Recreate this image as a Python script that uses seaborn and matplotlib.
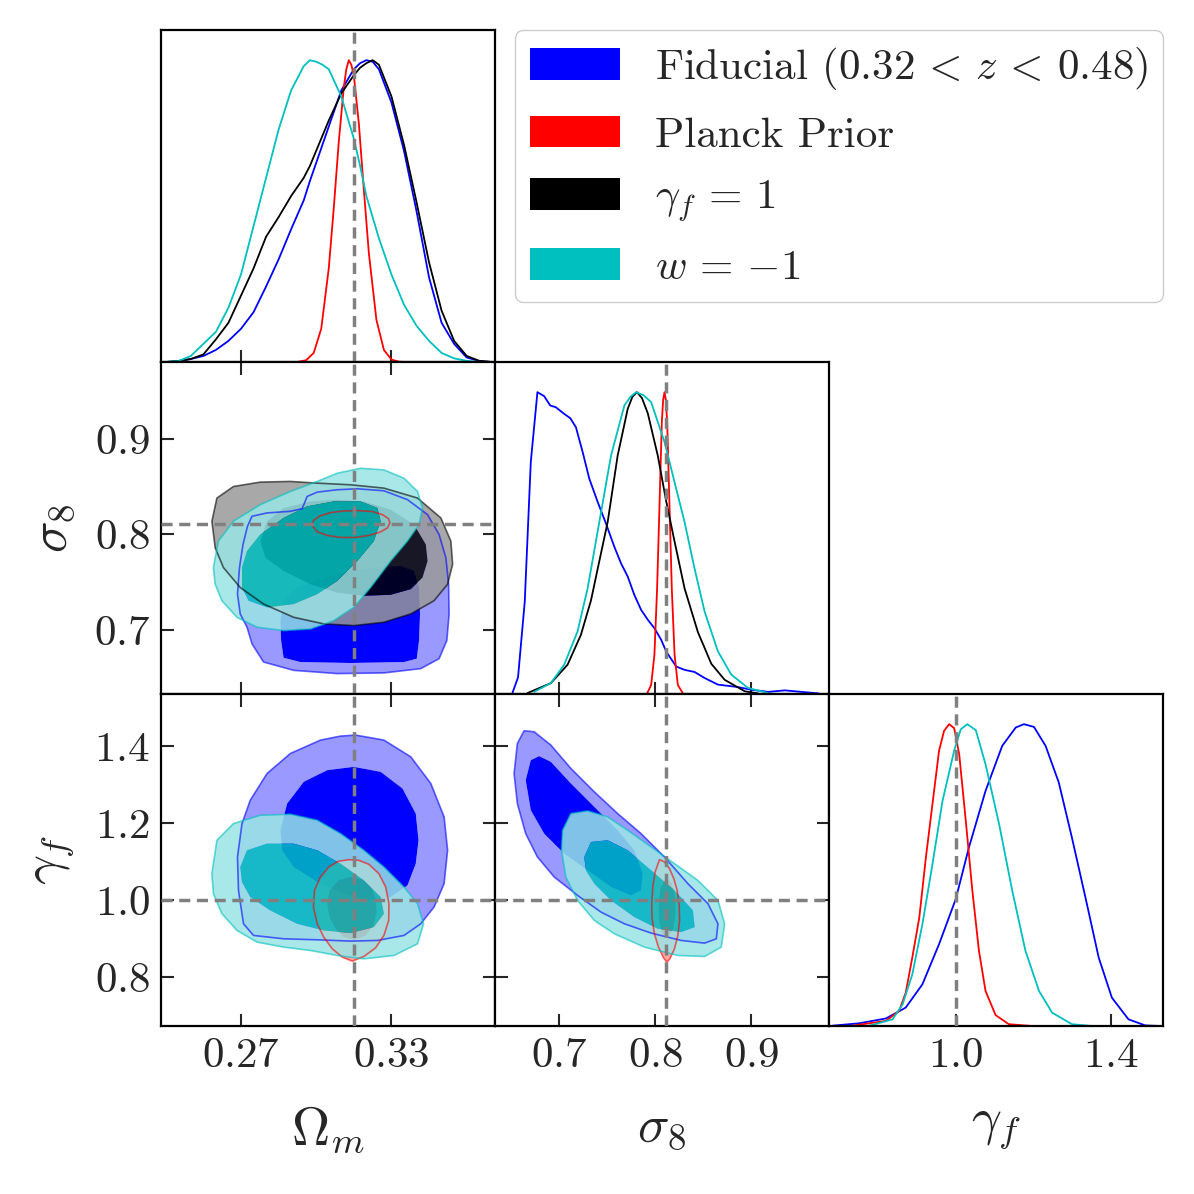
import matplotlib
matplotlib.use("Agg")
import matplotlib.pyplot as plt
from matplotlib.patches import Patch, PathPatch
from matplotlib.path import Path
import seaborn as sns

# -----------------------------
# axis ranges, ticks, fiducial values
# -----------------------------
om_lim = [0.2381, 0.3713]
s8_lim = [0.6328, 0.9808]
gf_lim = [0.673, 1.535]
om_ticks = [0.27, 0.33]
om_ticklabels = ["0.27", "0.33"]
s8_ticks = [0.7, 0.8, 0.9]
s8_ticklabels = ["0.7", "0.8", "0.9"]
gf_ticks_y = [0.8, 1.0, 1.2, 1.4]
gf_ticklabels_y = ["0.8", "1.0", "1.2", "1.4"]
gf_ticks_x = [1.0, 1.4]
gf_ticklabels_x = ["1.0", "1.4"]
om_ref = 0.315
s8_ref = 0.811
gf_ref = 1.0

labels = [r"Fiducial $(0.32\,<\,z\,<\,0.48)$", "Planck Prior",
          r"$\gamma_f\,=\,1$", r"$w\,=\,{-1}$"]
colors = ["#0000ff", "#ff0000", "#000000", "#00bfbf"]

# -----------------------------
# 1D marginals: Omega_m
# -----------------------------
om_grid = [0.240, 0.245, 0.250, 0.255, 0.260, 0.265, 0.270, 0.275, 0.280, 0.285,
           0.290, 0.295, 0.2975, 0.300, 0.3025, 0.305, 0.310, 0.315, 0.3175, 0.320,
           0.3225, 0.325, 0.330, 0.335, 0.340, 0.345, 0.350, 0.355, 0.360, 0.365, 0.370]
om_fid_p = [0.0, 0.003, 0.01, 0.02, 0.04, 0.07, 0.11, 0.165, 0.25, 0.34,
            0.44, 0.535, 0.60, 0.66, 0.72, 0.78, 0.90, 0.97, 0.99, 1.0,
            0.995, 0.97, 0.86, 0.70, 0.50, 0.28, 0.13, 0.06, 0.015, 0.003, 0.0]
om_gam_p = [0.0, 0.003, 0.01, 0.025, 0.075, 0.13, 0.22, 0.31, 0.415, 0.48,
            0.55, 0.61, 0.65, 0.70, 0.75, 0.80, 0.89, 0.95, 0.975, 0.99,
            1.0, 0.985, 0.88, 0.72, 0.53, 0.33, 0.17, 0.07, 0.02, 0.004, 0.0]
om_w_p = [0.0, 0.003, 0.02, 0.06, 0.10, 0.18, 0.29, 0.45, 0.61, 0.77,
          0.90, 0.98, 1.0, 0.995, 0.985, 0.97, 0.88, 0.74, 0.65, 0.55,
          0.48, 0.41, 0.29, 0.19, 0.12, 0.07, 0.03, 0.012, 0.004, 0.0, 0.0]
om_pl_x = [0.293, 0.296, 0.299, 0.302, 0.305, 0.307, 0.309, 0.311, 0.312, 0.313,
           0.314, 0.315, 0.317, 0.319, 0.321, 0.324, 0.327, 0.330, 0.333, 0.336]
om_pl_p = [0.001, 0.006, 0.03, 0.11, 0.31, 0.51, 0.73, 0.91, 0.97, 1.0,
           0.985, 0.95, 0.79, 0.57, 0.36, 0.14, 0.04, 0.008, 0.001, 0.0]

# -----------------------------
# 1D marginals: sigma_8
# -----------------------------
s8_fid_x = [0.6509, 0.6568, 0.6638, 0.6701, 0.6770, 0.6840, 0.6903, 0.6962, 0.7049, 0.7112,
            0.7171, 0.7241, 0.7310, 0.7397, 0.7484, 0.7571, 0.7641, 0.7711, 0.7780, 0.7850,
            0.7920, 0.7989, 0.8059, 0.8111, 0.8216, 0.8303, 0.8407, 0.8512, 0.8651, 0.8860,
            0.9000, 0.9174, 0.9348, 0.9522, 0.9696]
s8_fid_p = [0.003, 0.055, 0.306, 0.769, 1.0, 0.987, 0.956, 0.950, 0.928, 0.914,
            0.884, 0.802, 0.714, 0.637, 0.565, 0.488, 0.433, 0.389, 0.328, 0.279,
            0.246, 0.218, 0.180, 0.141, 0.091, 0.080, 0.073, 0.053, 0.031, 0.023,
            0.014, 0.007, 0.012, 0.007, 0.002]
s8_gam_x = [0.6666, 0.6910, 0.7084, 0.7223, 0.7328, 0.7398, 0.7502, 0.7606, 0.7711, 0.7760,
            0.7808, 0.7860, 0.7920, 0.8024, 0.8111, 0.8199, 0.8303, 0.8442, 0.8582, 0.8721,
            0.8930, 0.9069]
s8_gam_p = [0.003, 0.036, 0.097, 0.196, 0.31, 0.415, 0.57, 0.79, 0.945, 0.985,
            1.0, 0.98, 0.93, 0.79, 0.64, 0.505, 0.35, 0.205, 0.10, 0.047,
            0.009, 0.002]
s8_w_x = [0.6736, 0.6910, 0.7049, 0.7188, 0.7293, 0.7415, 0.7537, 0.7676, 0.7740, 0.7798,
          0.7875, 0.7955, 0.8094, 0.8216, 0.8303, 0.8407, 0.8512, 0.8651, 0.8790, 0.8965,
          0.9174]
s8_w_p = [0.007, 0.036, 0.097, 0.207, 0.35, 0.57, 0.79, 0.956, 0.985, 1.0,
          0.99, 0.967, 0.835, 0.68, 0.57, 0.416, 0.273, 0.141, 0.064, 0.02,
          0.003]
s8_pl_x = [0.7913, 0.7955, 0.7989, 0.8017, 0.8042, 0.8066, 0.8080, 0.8094, 0.8108, 0.8122,
           0.8146, 0.8170, 0.8199, 0.8233, 0.8286]
s8_pl_p = [0.002, 0.03, 0.13, 0.35, 0.625, 0.90, 0.975, 1.0, 0.975, 0.90,
           0.625, 0.35, 0.13, 0.03, 0.002]

# -----------------------------
# 1D marginals: gamma_f
# -----------------------------
gf_fid_x = [0.682, 0.751, 0.820, 0.871, 0.914, 0.957, 1.000, 1.034, 1.077, 1.120,
            1.155, 1.176, 1.202, 1.232, 1.266, 1.300, 1.335, 1.369, 1.403, 1.446,
            1.489, 1.528]
gf_fid_p = [0.001, 0.009, 0.025, 0.061, 0.138, 0.271, 0.420, 0.591, 0.779, 0.928,
            0.989, 1.0, 0.991, 0.928, 0.807, 0.624, 0.425, 0.227, 0.094, 0.022,
            0.002, 0.0]
gf_w_x = [0.777, 0.837, 0.863, 0.888, 0.914, 0.940, 0.966, 0.996, 1.013, 1.030,
          1.052, 1.077, 1.112, 1.146, 1.180, 1.215, 1.249, 1.300, 1.352]
gf_w_p = [0.001, 0.022, 0.072, 0.171, 0.337, 0.536, 0.746, 0.912, 0.983, 1.0,
          0.980, 0.867, 0.669, 0.448, 0.249, 0.116, 0.044, 0.006, 0.0]
gf_pl_x = [0.734, 0.820, 0.854, 0.871, 0.888, 0.906, 0.923, 0.940, 0.957, 0.970,
           0.983, 0.996, 1.009, 1.026, 1.043, 1.060, 1.077, 1.103, 1.137, 1.197]
gf_pl_p = [0.001, 0.017, 0.050, 0.110, 0.227, 0.359, 0.558, 0.735, 0.912, 0.978,
           1.0, 0.987, 0.901, 0.680, 0.448, 0.249, 0.116, 0.036, 0.006, 0.0]

# -----------------------------
# 2D contours (68% / 95%), Omega_m vs sigma_8
# -----------------------------
fid_om_s8_95_x = [0.2744, 0.2804, 0.2897, 0.2944, 0.2964, 0.3004, 0.3084, 0.3164, 0.3270, 0.3364,
                  0.3444, 0.3490, 0.3517, 0.3528, 0.3530, 0.3521, 0.3490, 0.3417, 0.3270, 0.3084,
                  0.2910, 0.2790, 0.2744, 0.2724, 0.2697, 0.2686, 0.2694, 0.2708, 0.2726]
fid_om_s8_95_y = [0.8191, 0.8226, 0.8243, 0.8271, 0.8399, 0.8444, 0.8469, 0.8479, 0.8458, 0.8365,
                  0.8208, 0.8000, 0.7757, 0.7479, 0.7167, 0.6889, 0.6698, 0.6594, 0.6549, 0.6542,
                  0.6576, 0.6663, 0.6854, 0.7028, 0.7167, 0.7375, 0.7653, 0.7896, 0.8087]
fid_om_s8_68_x = [0.2857, 0.2870, 0.2924, 0.3030, 0.3137, 0.3244, 0.3337, 0.3390, 0.3410, 0.3414,
                  0.3410, 0.3401, 0.3350, 0.3137, 0.2937, 0.2870, 0.2860]
fid_om_s8_68_y = [0.7097, 0.7306, 0.7444, 0.7549, 0.7618, 0.7660, 0.7670, 0.7618, 0.7444, 0.7167,
                  0.6889, 0.6698, 0.6663, 0.6653, 0.6663, 0.6708, 0.6889]
pl_om_s8_95_x = [0.2984, 0.2990, 0.3014, 0.3057, 0.3110, 0.3170, 0.3224, 0.3264, 0.3288, 0.3294,
                 0.3284, 0.3254, 0.3210, 0.3157, 0.3097, 0.3044, 0.3004]
pl_om_s8_95_y = [0.8097, 0.8149, 0.8194, 0.8229, 0.8247, 0.8250, 0.8240, 0.8208, 0.8167, 0.8122,
                 0.8069, 0.8024, 0.7990, 0.7969, 0.7969, 0.7990, 0.8028]
pl_om_s8_68_x = [0.3064, 0.3084, 0.3137, 0.3197, 0.3220, 0.3204, 0.3144, 0.3084]
pl_om_s8_68_y = [0.8104, 0.8153, 0.8181, 0.8167, 0.8122, 0.8069, 0.8042, 0.8056]
gam_om_s8_95_x = [0.2584, 0.2604, 0.2670, 0.2777, 0.2897, 0.3004, 0.3137, 0.3270, 0.3404, 0.3497,
                  0.3537, 0.3544, 0.3524, 0.3470, 0.3377, 0.3270, 0.3150, 0.3030, 0.2910, 0.2790,
                  0.2697, 0.2630, 0.2597]
gam_om_s8_95_y = [0.8139, 0.8382, 0.8503, 0.8549, 0.8556, 0.8538, 0.8521, 0.8486, 0.8382, 0.8174,
                  0.7931, 0.7688, 0.7479, 0.7306, 0.7167, 0.7080, 0.7045, 0.7063, 0.7132, 0.7271,
                  0.7444, 0.7653, 0.7861]
gam_om_s8_68_x = [0.2777, 0.2804, 0.2870, 0.2977, 0.3084, 0.3190, 0.3297, 0.3390, 0.3437, 0.3444,
                  0.3424, 0.3377, 0.3297, 0.3190, 0.3084, 0.2977, 0.2870, 0.2797]
gam_om_s8_68_y = [0.7931, 0.8139, 0.8278, 0.8347, 0.8365, 0.8347, 0.8260, 0.8104, 0.7896, 0.7722,
                  0.7549, 0.7427, 0.7368, 0.7358, 0.7392, 0.7479, 0.7618, 0.7757]
w_om_s8_95_x = [0.2590, 0.2610, 0.2670, 0.2777, 0.2897, 0.3004, 0.3084, 0.3177, 0.3270, 0.3350,
                0.3404, 0.3424, 0.3410, 0.3364, 0.3297, 0.3217, 0.3150, 0.3070, 0.2977, 0.2870,
                0.2764, 0.2684, 0.2624, 0.2597]
w_om_s8_95_y = [0.7653, 0.7931, 0.8139, 0.8313, 0.8451, 0.8556, 0.8642, 0.8694, 0.8677, 0.8590,
                0.8451, 0.8278, 0.8104, 0.7931, 0.7722, 0.7444, 0.7236, 0.7097, 0.7010, 0.6993,
                0.7028, 0.7132, 0.7306, 0.7479]
w_om_s8_68_x = [0.2704, 0.2724, 0.2777, 0.2870, 0.2964, 0.3070, 0.3177, 0.3244, 0.3257, 0.3230,
                0.3164, 0.3084, 0.3004, 0.2910, 0.2804, 0.2730, 0.2704]
w_om_s8_68_y = [0.7653, 0.7826, 0.8000, 0.8174, 0.8295, 0.8347, 0.8347, 0.8278, 0.8139, 0.7931,
                0.7722, 0.7514, 0.7375, 0.7271, 0.7236, 0.7306, 0.7444]

# -----------------------------
# 2D contours, Omega_m vs gamma_f
# -----------------------------
fid_om_gf_95_x = [0.3157, 0.3270, 0.3377, 0.3457, 0.3510, 0.3524, 0.3510, 0.3470, 0.3417, 0.3350,
                  0.3244, 0.3137, 0.3004, 0.2870, 0.2750, 0.2710, 0.2690, 0.2686, 0.2704, 0.2737,
                  0.2804, 0.2897, 0.3017, 0.3097]
fid_om_gf_95_y = [1.4283, 1.4153, 1.3719, 1.3026, 1.2159, 1.1292, 1.0425, 0.9818, 0.9384, 0.9081,
                  0.8951, 0.8934, 0.8968, 0.8994, 0.9081, 0.9384, 1.0251, 1.1118, 1.1985, 1.2592,
                  1.3286, 1.3806, 1.4153, 1.4257]
fid_om_gf_68_x = [0.2857, 0.2884, 0.2950, 0.3044, 0.3150, 0.3257, 0.3344, 0.3397, 0.3408, 0.3397,
                  0.3364, 0.3297, 0.3204, 0.3110, 0.3004, 0.2910, 0.2864]
fid_om_gf_68_y = [1.1812, 1.2505, 1.3069, 1.3372, 1.3459, 1.3329, 1.2896, 1.2245, 1.1552, 1.0945,
                  1.0381, 1.0078, 0.9991, 1.0165, 1.0468, 1.0858, 1.1292]
pl_om_gf_95_x = [0.3130, 0.3170, 0.3210, 0.3250, 0.3277, 0.3290, 0.3289, 0.3270, 0.3237, 0.3190,
                 0.3144, 0.3104, 0.3064, 0.3030, 0.3004, 0.2989, 0.2993, 0.3017, 0.3050, 0.3088]
pl_om_gf_95_y = [1.1049, 1.1032, 1.0928, 1.0685, 1.0338, 0.9905, 0.9471, 0.9081, 0.8760, 0.8535,
                 0.8414, 0.8518, 0.8734, 0.9038, 0.9384, 0.9818, 1.0251, 1.0598, 1.0858, 1.1006]
pl_om_gf_68_x = [0.3137, 0.3184, 0.3217, 0.3237, 0.3241, 0.3228, 0.3197, 0.3150, 0.3110, 0.3077,
                 0.3053, 0.3044, 0.3054, 0.3090]
pl_om_gf_68_y = [1.0598, 1.0529, 1.0338, 1.0035, 0.9688, 0.9341, 0.9081, 0.8968, 0.9038, 0.9254,
                 0.9558, 0.9905, 1.0251, 1.0511]
w_om_gf_95_x = [0.2584, 0.2604, 0.2670, 0.2777, 0.2897, 0.3004, 0.3097, 0.3190, 0.3270, 0.3350,
                0.3404, 0.3428, 0.3404, 0.3310, 0.3190, 0.3084, 0.2977, 0.2870, 0.2764, 0.2684,
                0.2624, 0.2590]
w_om_gf_95_y = [1.0685, 1.1552, 1.1985, 1.2202, 1.2228, 1.2072, 1.1725, 1.1292, 1.0858, 1.0338,
                0.9905, 0.9384, 0.8864, 0.8561, 0.8474, 0.8561, 0.8691, 0.8778, 0.8908, 0.9211,
                0.9645, 1.0165]
w_om_gf_68_x = [0.2697, 0.2724, 0.2804, 0.2910, 0.3004, 0.3097, 0.3190, 0.3257, 0.3270, 0.3230,
                0.3137, 0.3030, 0.2924, 0.2817, 0.2737, 0.2704]
w_om_gf_68_y = [1.0858, 1.1292, 1.1465, 1.1465, 1.1292, 1.0945, 1.0511, 1.0078, 0.9645, 0.9298,
                0.9142, 0.9211, 0.9384, 0.9731, 1.0078, 1.0468]

# -----------------------------
# 2D contours, sigma_8 vs gamma_f
# -----------------------------
fid_s8_gf_95_x = [0.6561, 0.6631, 0.6736, 0.6910, 0.7119, 0.7363, 0.7606, 0.7850, 0.8094, 0.8338,
                  0.8547, 0.8651, 0.8634, 0.8512, 0.8268, 0.7955, 0.7676, 0.7432, 0.7188, 0.6945,
                  0.6770, 0.6648, 0.6561, 0.6527]
fid_s8_gf_95_y = [1.4066, 1.4395, 1.4369, 1.4023, 1.3416, 1.2809, 1.2245, 1.1725, 1.1118, 1.0425,
                  0.9905, 0.9384, 0.8994, 0.8882, 0.8951, 0.9142, 0.9384, 0.9688, 1.0121, 1.0598,
                  1.1118, 1.1725, 1.2505, 1.3286]
fid_s8_gf_68_x = [0.6648, 0.6701, 0.6788, 0.6910, 0.7119, 0.7363, 0.7606, 0.7780, 0.7868, 0.7850,
                  0.7746, 0.7537, 0.7293, 0.7049, 0.6840, 0.6701]
fid_s8_gf_68_y = [1.3112, 1.3632, 1.3736, 1.3589, 1.3026, 1.2419, 1.1812, 1.1292, 1.0685, 1.0251,
                  1.0121, 1.0338, 1.0772, 1.1205, 1.1725, 1.2332]
pl_s8_gf_95_x = [0.8042, 0.8094, 0.8146, 0.8191, 0.8226, 0.8247, 0.8251, 0.8233, 0.8198, 0.8150,
                 0.8118, 0.8080, 0.8031, 0.7989, 0.7965, 0.7961, 0.7972, 0.7996]
pl_s8_gf_95_y = [1.1049, 1.0988, 1.0815, 1.0555, 1.0251, 0.9861, 0.9471, 0.9081, 0.8734, 0.8474,
                 0.8388, 0.8518, 0.8778, 0.9124, 0.9515, 0.9905, 1.0338, 1.0728]
pl_s8_gf_68_x = [0.8111, 0.8170, 0.8205, 0.8209, 0.8184, 0.8129, 0.8069, 0.8038, 0.8035, 0.8052]
pl_s8_gf_68_y = [1.0590, 1.0425, 1.0078, 0.9645, 0.9254, 0.9029, 0.9124, 0.9471, 0.9905, 1.0295]
w_s8_gf_95_x = [0.7032, 0.7119, 0.7293, 0.7502, 0.7711, 0.7955, 0.8199, 0.8442, 0.8651, 0.8721,
                0.8686, 0.8512, 0.8233, 0.7885, 0.7572, 0.7363, 0.7188, 0.7066, 0.7021]
w_s8_gf_95_y = [1.1812, 1.2245, 1.2315, 1.2159, 1.1812, 1.1378, 1.0945, 1.0511, 0.9991, 0.9384,
                0.8778, 0.8535, 0.8561, 0.8778, 0.9124, 0.9471, 0.9991, 1.0598, 1.1292]
w_s8_gf_68_x = [0.7258, 0.7328, 0.7502, 0.7711, 0.7955, 0.8199, 0.8390, 0.8408, 0.8268, 0.8024,
                0.7780, 0.7537, 0.7363, 0.7275]
w_s8_gf_68_y = [1.1118, 1.1508, 1.1552, 1.1292, 1.0772, 1.0251, 0.9731, 0.9298, 0.9168, 0.9254,
                0.9558, 0.9991, 1.0425, 1.0772]


# -----------------------------
# style
# -----------------------------
sns.set_style("white")
plt.rcParams["font.family"] = "serif"
plt.rcParams["font.serif"] = ["cmr10", "DejaVu Serif"]
plt.rcParams["mathtext.fontset"] = "cm"
plt.rcParams["axes.unicode_minus"] = False
plt.rcParams["axes.linewidth"] = 1.6
plt.rcParams["axes.edgecolor"] = "black"

TICK_FS = 31
LABEL_FS = 38
LEGEND_FS = 31
FILL_ALPHA = [1.0, 0.85, 0.85, 0.85]
REF_KW = dict(color="#808080", lw=2.5, ls=(0, (3.2, 1.9)), zorder=20)


def light(c):
    rgb = matplotlib.colors.to_rgb(c)
    return tuple(0.4 * v + 0.6 for v in rgb)


def signed_area(xs, ys):
    n = len(xs)
    return sum(xs[i] * ys[(i + 1) % n] - xs[(i + 1) % n] * ys[i] for i in range(n)) / 2


def ring(xs, ys, reverse=False):
    pts = list(zip(xs, ys))
    if reverse:
        pts = pts[::-1]
    return pts + [pts[0]]


def draw_2d(ax, layers):
    # layers: list of (x95, y95, x68, y68, color, alpha) in plotting order
    z = 2
    for x95, y95, x68, y68, c, a in layers:
        # outer band as annulus (95% minus 68%)
        flip = (signed_area(x95, y95) > 0) == (signed_area(x68, y68) > 0)
        outer = ring(x95, y95)
        inner = ring(x68, y68, reverse=flip)
        verts = outer + inner
        codes = ([Path.MOVETO] + [Path.LINETO] * (len(outer) - 2) + [Path.CLOSEPOLY]) + \
                ([Path.MOVETO] + [Path.LINETO] * (len(inner) - 2) + [Path.CLOSEPOLY])
        ax.add_patch(PathPatch(Path(verts, codes), facecolor=light(c), edgecolor="none",
                               alpha=a, zorder=z))
        ax.fill(x68, y68, facecolor=c, edgecolor="none", alpha=a, zorder=z)
        z += 1
    for x95, y95, x68, y68, c, a in layers:
        ax.fill(x95, y95, fill=False, edgecolor=c, lw=1.2, alpha=0.6, zorder=10,
                joinstyle="round")


def draw_1d(ax, curves):
    for xs, ps, c in curves:
        sns.lineplot(x=xs, y=ps, color=c, lw=1.3, ax=ax, estimator=None)
    ax.set_ylim(0, 1.1)
    ax.set_yticks([])


def style_ticks(ax, two_d):
    ax.tick_params(direction="in", length=9, width=1.5, labelsize=TICK_FS, pad=8,
                   top=two_d, right=two_d, bottom=True, left=two_d)
    ax.tick_params(axis="both", labelbottom=False, labelleft=False)


fig = plt.figure(figsize=(11.94, 11.94), dpi=100)
gs = fig.add_gridspec(3, 3, left=161 / 1194, right=1163 / 1194,
                      top=1 - 30 / 1194, bottom=1 - 1026 / 1194, wspace=0, hspace=0)

ax11 = fig.add_subplot(gs[0, 0])
ax21 = fig.add_subplot(gs[1, 0])
ax22 = fig.add_subplot(gs[1, 1])
ax31 = fig.add_subplot(gs[2, 0])
ax32 = fig.add_subplot(gs[2, 1])
ax33 = fig.add_subplot(gs[2, 2])

# 1D panels
draw_1d(ax11, [(om_grid, om_fid_p, colors[0]), (om_pl_x, om_pl_p, colors[1]),
               (om_grid, om_gam_p, colors[2]), (om_grid, om_w_p, colors[3])])
draw_1d(ax22, [(s8_fid_x, s8_fid_p, colors[0]), (s8_pl_x, s8_pl_p, colors[1]),
               (s8_gam_x, s8_gam_p, colors[2]), (s8_w_x, s8_w_p, colors[3])])
draw_1d(ax33, [(gf_fid_x, gf_fid_p, colors[0]), (gf_pl_x, gf_pl_p, colors[1]),
               (gf_w_x, gf_w_p, colors[3])])

# 2D panels
draw_2d(ax21, [
    (fid_om_s8_95_x, fid_om_s8_95_y, fid_om_s8_68_x, fid_om_s8_68_y, colors[0], FILL_ALPHA[0]),
    (pl_om_s8_95_x, pl_om_s8_95_y, pl_om_s8_68_x, pl_om_s8_68_y, colors[1], FILL_ALPHA[1]),
    (gam_om_s8_95_x, gam_om_s8_95_y, gam_om_s8_68_x, gam_om_s8_68_y, colors[2], FILL_ALPHA[2]),
    (w_om_s8_95_x, w_om_s8_95_y, w_om_s8_68_x, w_om_s8_68_y, colors[3], FILL_ALPHA[3]),
])
draw_2d(ax31, [
    (fid_om_gf_95_x, fid_om_gf_95_y, fid_om_gf_68_x, fid_om_gf_68_y, colors[0], FILL_ALPHA[0]),
    (pl_om_gf_95_x, pl_om_gf_95_y, pl_om_gf_68_x, pl_om_gf_68_y, colors[1], FILL_ALPHA[1]),
    (w_om_gf_95_x, w_om_gf_95_y, w_om_gf_68_x, w_om_gf_68_y, colors[3], FILL_ALPHA[3]),
])
draw_2d(ax32, [
    (fid_s8_gf_95_x, fid_s8_gf_95_y, fid_s8_gf_68_x, fid_s8_gf_68_y, colors[0], FILL_ALPHA[0]),
    (pl_s8_gf_95_x, pl_s8_gf_95_y, pl_s8_gf_68_x, pl_s8_gf_68_y, colors[1], FILL_ALPHA[1]),
    (w_s8_gf_95_x, w_s8_gf_95_y, w_s8_gf_68_x, w_s8_gf_68_y, colors[3], FILL_ALPHA[3]),
])

# limits and ticks
for ax in (ax11, ax21, ax31):
    ax.set_xlim(om_lim)
    ax.set_xticks(om_ticks)
    ax.set_xticklabels(["$%s$" % t for t in om_ticklabels])
for ax in (ax22, ax32):
    ax.set_xlim(s8_lim)
    ax.set_xticks(s8_ticks)
    ax.set_xticklabels(["$%s$" % t for t in s8_ticklabels])
ax33.set_xlim(gf_lim)
ax33.set_xticks(gf_ticks_x)
ax33.set_xticklabels(["$%s$" % t for t in gf_ticklabels_x])
ax21.set_ylim(s8_lim)
ax21.set_yticks(s8_ticks)
ax21.set_yticklabels(["$%s$" % t for t in s8_ticklabels])
for ax in (ax31, ax32):
    ax.set_ylim(gf_lim)
    ax.set_yticks(gf_ticks_y)
    ax.set_yticklabels(["$%s$" % t for t in gf_ticklabels_y])

for ax in (ax11, ax22, ax33):
    style_ticks(ax, False)
for ax in (ax21, ax31, ax32):
    style_ticks(ax, True)
for ax in (ax31, ax32, ax33):
    ax.tick_params(labelbottom=True)
for ax in (ax21, ax31):
    ax.tick_params(labelleft=True)
for ax in (ax11, ax21, ax22, ax31, ax32, ax33):
    ax.set_xlabel("")
    ax.set_ylabel("")
    for s in ax.spines.values():
        s.set_visible(True)
        s.set_linewidth(1.6)

# fiducial reference lines
for ax in (ax11, ax21, ax31):
    ax.axvline(om_ref, **REF_KW)
for ax in (ax22, ax32):
    ax.axvline(s8_ref, **REF_KW)
ax33.axvline(gf_ref, **REF_KW)
ax21.axhline(s8_ref, **REF_KW)
for ax in (ax31, ax32):
    ax.axhline(gf_ref, **REF_KW)

# axis labels
ax31.set_xlabel(r"$\Omega_m$", fontsize=LABEL_FS, labelpad=22)
ax32.set_xlabel(r"$\sigma_8$", fontsize=LABEL_FS, labelpad=22)
ax33.set_xlabel(r"$\gamma_f$", fontsize=LABEL_FS, labelpad=22)
ax21.set_ylabel(r"$\sigma_8$", fontsize=LABEL_FS, labelpad=12)
ax31.set_ylabel(r"$\gamma_f$", fontsize=LABEL_FS, labelpad=12)

# legend
handles = [Patch(facecolor=c, edgecolor="none") for c in colors]
fig.legend(handles, labels, loc="upper right",
           bbox_to_anchor=(1163 / 1194, 1 - 30 / 1194), borderaxespad=0,
           fontsize=LEGEND_FS, handlelength=2.1, handleheight=0.75,
           labelspacing=0.55, handletextpad=0.8, borderpad=0.35,
           frameon=True, fancybox=True, edgecolor="#cccccc", framealpha=1)

fig.savefig("out.png", dpi=100)
